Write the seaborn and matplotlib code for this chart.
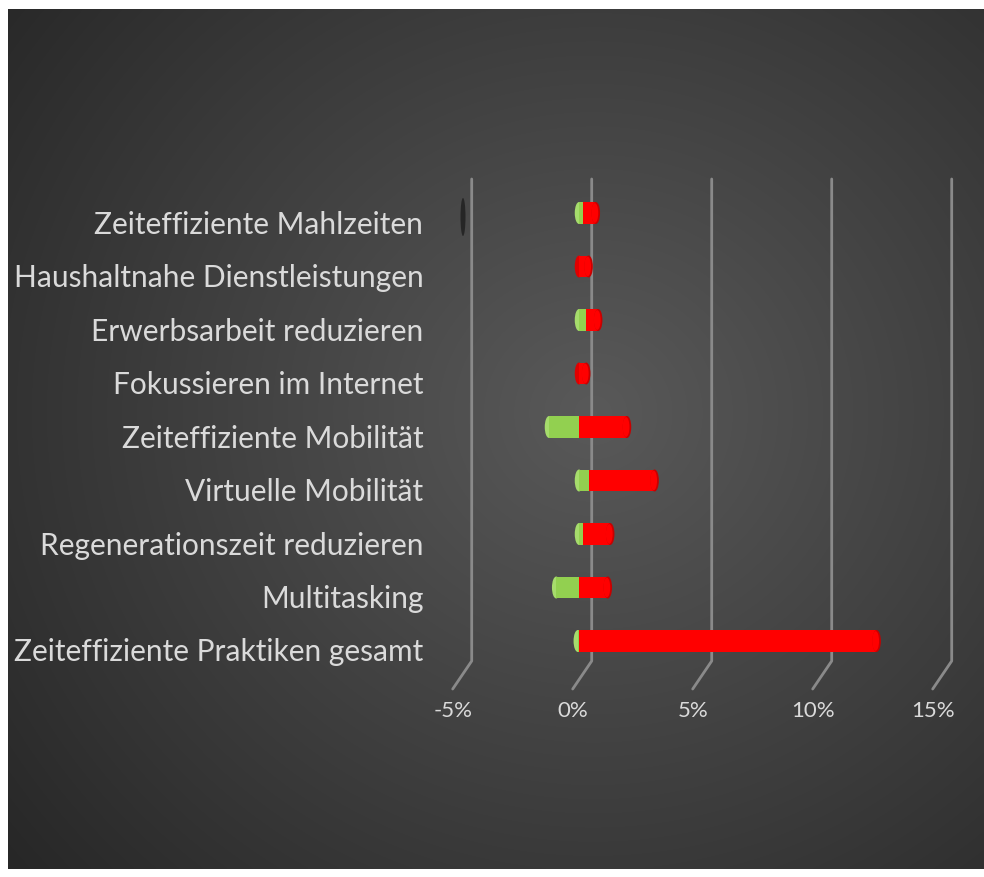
import numpy as np
import matplotlib
matplotlib.use("Agg")
import matplotlib.pyplot as plt
import matplotlib.transforms as mtransforms
from matplotlib.patches import Ellipse
import seaborn as sns

# Data (shares in %)
categories = [
    "Zeiteffiziente Mahlzeiten",
    "Haushaltnahe Dienstleistungen",
    "Erwerbsarbeit reduzieren",
    "Fokussieren im Internet",
    "Zeiteffiziente Mobilität",
    "Virtuelle Mobilität",
    "Regenerationszeit reduzieren",
    "Multitasking",
    "Zeiteffiziente Praktiken gesamt",
]
green_vals = [0.15, 0.0, 0.3, 0.0, -1.25, 0.4, 0.15, -0.95, -0.05]
red_vals = [0.55, 0.4, 0.5, 0.3, 2.0, 2.75, 1.15, 1.2, 12.4]
x_ticks = [-5, 0, 5, 10, 15]

sns.set_theme(style="white")
plt.rcParams["font.family"] = ["Lato", "DejaVu Sans"]

RED = "#ff0000"
RED_CAP = "#c80000"
GREEN = "#92d050"
GREEN_CAP = "#a6dc6c"
TEXT = "#dadada"
GRID = "#8a8a8a"

W, H, DPI = 984, 878, 100
fig = plt.figure(figsize=(W / DPI, H / DPI), dpi=DPI)
fig.patch.set_facecolor("white")

# radial gradient background
bg = fig.add_axes([8 / W, 8 / H, (W - 8) / W, (H - 18) / H])
gy, gx = np.mgrid[0:1:400j, 0:1:440j]
r = np.sqrt(((gx - 0.6) / 0.75) ** 2 + ((gy - 0.47) / 0.8) ** 2)
shade = np.clip(0.35 - 0.19 * r, 0.15, 0.35)
bg.imshow(np.dstack([shade] * 3), aspect="auto", extent=[0, 1, 0, 1], interpolation="bilinear")
bg.set_axis_off()

# main axes (pixel layout)
left_px, right_px, top_px, bot_px = 440, 960, 180, 690
ax = fig.add_axes([left_px / W, 1 - bot_px / H, (right_px - left_px) / W, (bot_px - top_px) / H])
ax.set_facecolor("none")

px_per_pct = 24.0
zero_px = 579.0
row0_px, row_step = 214.0, 53.5
ax.set_xlim((left_px - zero_px) / px_per_pct, (right_px - zero_px) / px_per_pct)

green = np.array(green_vals)
red_end = np.clip(green, 0, None) + np.array(red_vals)
start = np.minimum(green, 0)
bar_h = 0.41
cap_w = 8.5 / px_per_pct

# grid lines with 3D floor slant
back_off, front_off = 12.7 / px_per_pct, -6.3 / px_per_pct
gtrans = mtransforms.blended_transform_factory(ax.transData, ax.transAxes)
floor_y = (bot_px - 662) / (bot_px - top_px)
for v in x_ticks:
    ax.plot([v + back_off, v + back_off, v + front_off], [1.0, floor_y, 0.0],
            transform=gtrans, color=GRID, lw=2, zorder=1, clip_on=False)

df_red = {"cat": categories, "val": red_end}
df_green = {"cat": categories, "val": green}
sns.barplot(x="val", y="cat", data=df_red, color=RED, orient="h", width=bar_h,
            saturation=1, ax=ax, zorder=3)
sns.barplot(x="val", y="cat", data=df_green, color=GREEN, orient="h", width=bar_h,
            saturation=1, ax=ax, zorder=4)
for p in ax.patches:
    p.set_edgecolor("none")

# cylinder end caps
for i in range(len(categories)):
    ax.add_patch(Ellipse((red_end[i], i), cap_w, bar_h, color=RED_CAP, zorder=5, lw=0))
    ax.add_patch(Ellipse((red_end[i] - 0.04, i), cap_w * 0.8, bar_h * 0.9, color=RED, zorder=5, lw=0))
    left_col = GREEN_CAP if green[i] != 0 else "#e00000"
    ax.add_patch(Ellipse((start[i], i), cap_w, bar_h, color=left_col, zorder=2.5, lw=0))

ax.set_ylim((bot_px - row0_px) / row_step, (top_px - row0_px) / row_step)

# small shadow artifact near the top row
ax.add_patch(Ellipse(((463 - zero_px) / px_per_pct, (218 - row0_px) / row_step),
                     5 / px_per_pct, 38 / row_step, color="#1e1e1e", alpha=0.8, lw=0, zorder=2))

ax.set_xticks(x_ticks)
ax.set_xticklabels([f"{v}%" for v in x_ticks], fontsize=16, color=TEXT)
ax.tick_params(axis="x", length=0, pad=8)
ax.tick_params(axis="y", length=0, pad=12)
ax.set_yticks(range(len(categories)))
ax.set_yticklabels(categories, fontsize=21.5, color=TEXT)
ax.set_xlabel("")
ax.set_ylabel("")
for s in ax.spines.values():
    s.set_visible(False)

xoff = mtransforms.ScaledTranslation(-6.3 / DPI, 0, fig.dpi_scale_trans)
for lbl in ax.get_xticklabels():
    lbl.set_transform(lbl.get_transform() + xoff)
yoff = mtransforms.ScaledTranslation(0, -8 / DPI, fig.dpi_scale_trans)
for lbl in ax.get_yticklabels():
    lbl.set_transform(lbl.get_transform() + yoff)

fig.savefig("out.png", dpi=DPI)
